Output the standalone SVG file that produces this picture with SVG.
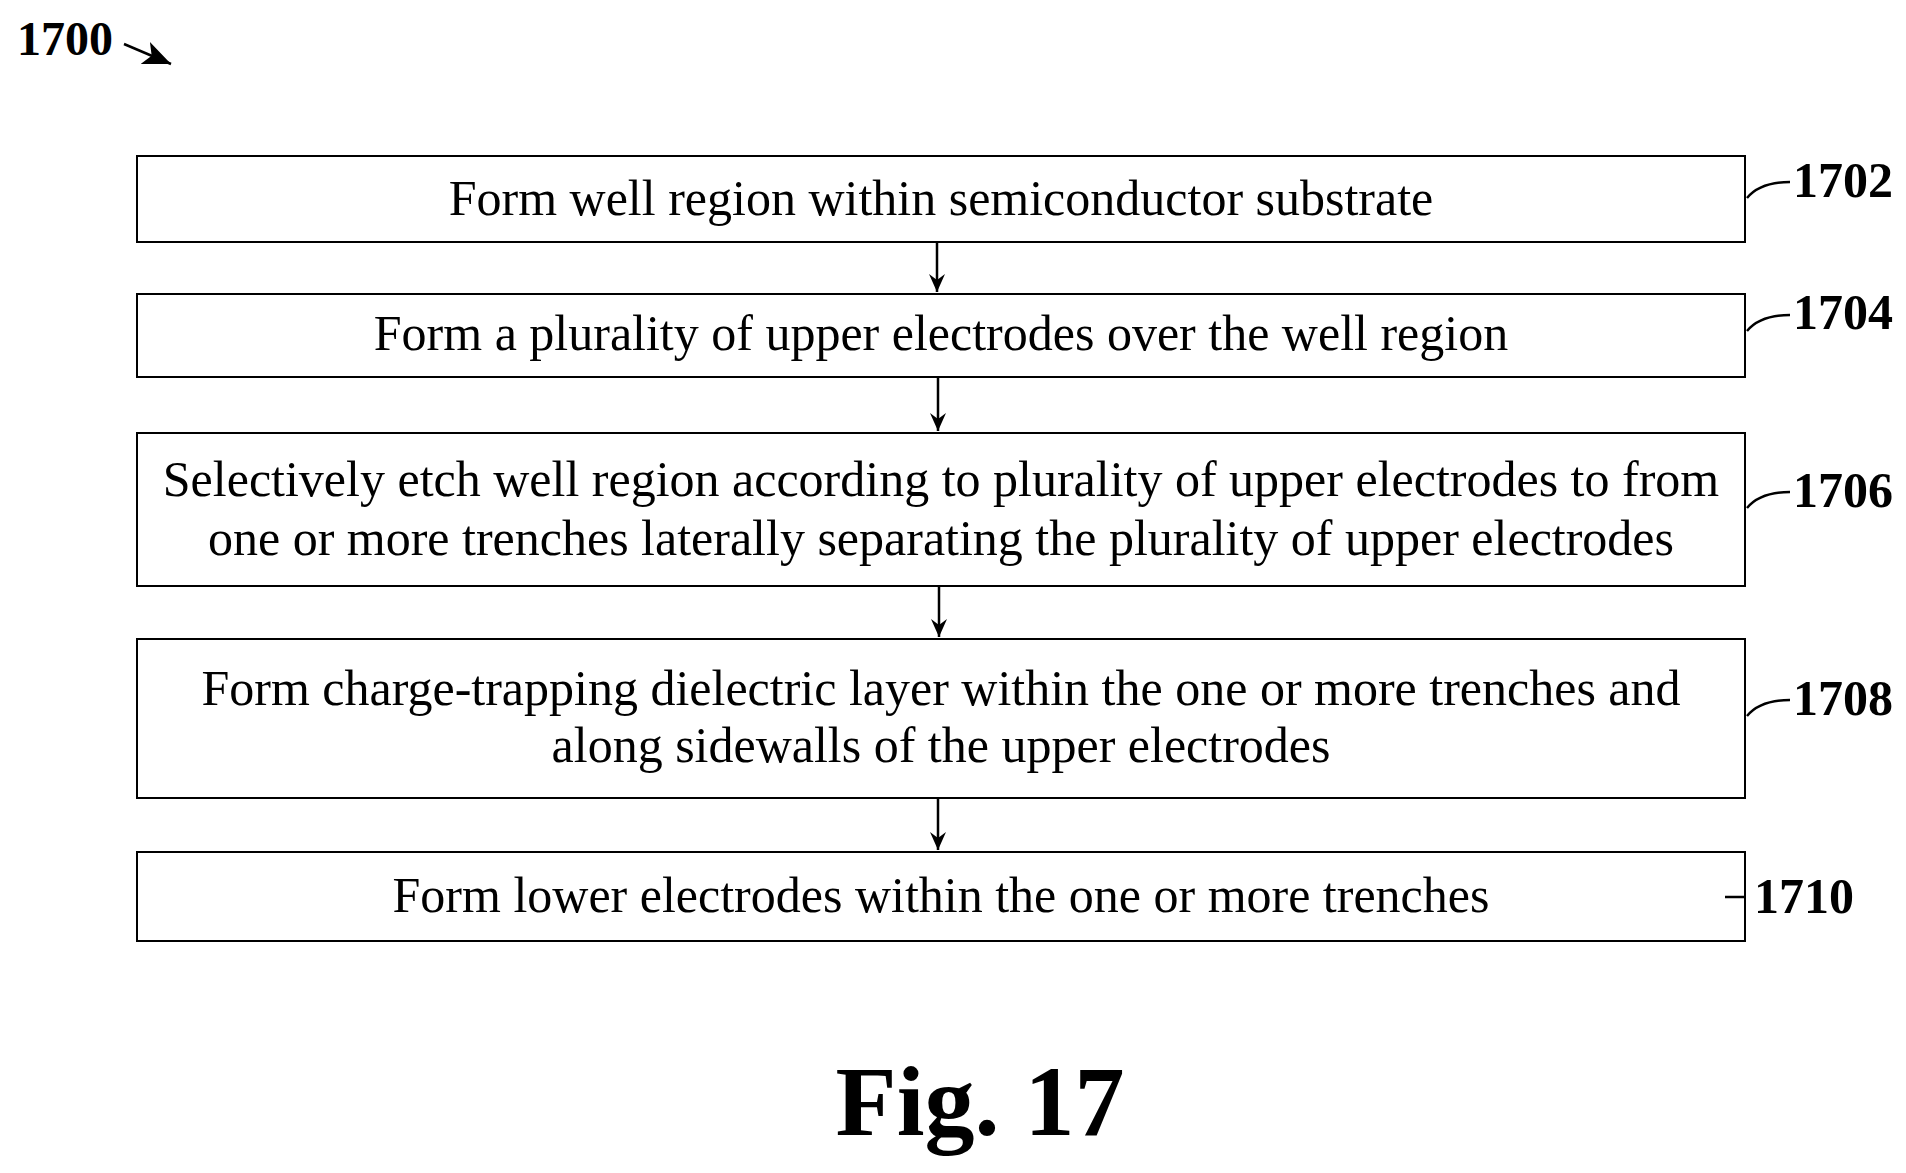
<svg xmlns="http://www.w3.org/2000/svg" width="1906" height="1173" viewBox="0 0 1906 1173">
<style>
.box{fill:#fff;stroke:#000;stroke-width:2}
.t{font-family:"Liberation Serif",serif;font-size:50px;text-anchor:middle}
.lb{font-family:"Liberation Serif",serif;font-size:50px;font-weight:bold}
.c{fill:none;stroke:#000;stroke-width:2.5}
</style>
<defs><marker id="a" markerWidth="16" markerHeight="22" refX="8" refY="20" orient="0" markerUnits="userSpaceOnUse"><path d="M0,2 L8,20 L16,2 L8,8 Z" fill="#000"/></marker>
<marker id="b" markerWidth="30" markerHeight="24" refX="28" refY="12" orient="auto" markerUnits="userSpaceOnUse"><path d="M0,0 L28,12 L0,24 L7,12 Z" fill="#000"/></marker></defs>
<rect width="1906" height="1173" fill="#fff"/>
<text class="lb" x="17" y="55" style="font-size:48px">1700</text>
<path class="c" d="M124,44 L171,64" stroke-width="4" marker-end="url(#b)"/>
<g id="n1702"><rect class="box" x="137" y="156" width="1608" height="86"/><text class="t" x="941" y="215">Form well region within semiconductor substrate</text></g>
<g id="n1704"><rect class="box" x="137" y="294" width="1608" height="83"/><text class="t" x="941" y="350">Form a plurality of upper electrodes over the well region</text></g>
<g id="n1706"><rect class="box" x="137" y="433" width="1608" height="153"/><text class="t" x="941" y="496">Selectively etch well region according to plurality of upper electrodes to from</text><text class="t" x="941" y="555">one or more trenches laterally separating the plurality of upper electrodes</text></g>
<g id="n1708"><rect class="box" x="137" y="639" width="1608" height="159"/><text class="t" x="941" y="705">Form charge-trapping dielectric layer within the one or more trenches and</text><text class="t" x="941" y="762">along sidewalls of the upper electrodes</text></g>
<g id="n1710"><rect class="box" x="137" y="852" width="1608" height="89"/><text class="t" x="941" y="912">Form lower electrodes within the one or more trenches</text></g>
<g id="connectors">
<path class="c" d="M937,242 V292" marker-end="url(#a)"/>
<path class="c" d="M938,377 V431" marker-end="url(#a)"/>
<path class="c" d="M939,586 V637" marker-end="url(#a)"/>
<path class="c" d="M938,798 V850" marker-end="url(#a)"/>
<path class="c" stroke-width="4" d="M1747,198 Q1760,182 1790,182"/>
<path class="c" stroke-width="4" d="M1747,331 Q1760,315 1790,315"/>
<path class="c" stroke-width="4" d="M1747,508 Q1760,492 1790,492"/>
<path class="c" stroke-width="4" d="M1747,716 Q1760,700 1790,700"/>
<path class="c" stroke-width="4" d="M1725,897 H1745"/>
</g>
<text class="lb" x="1793" y="197">1702</text>
<text class="lb" x="1793" y="329">1704</text>
<text class="lb" x="1793" y="507">1706</text>
<text class="lb" x="1793" y="715">1708</text>
<text class="lb" x="1754" y="913">1710</text>
<text x="980" y="1135" style="font-family:'Liberation Serif',serif;font-size:100px;font-weight:bold;text-anchor:middle">Fig. 17</text>
</svg>
